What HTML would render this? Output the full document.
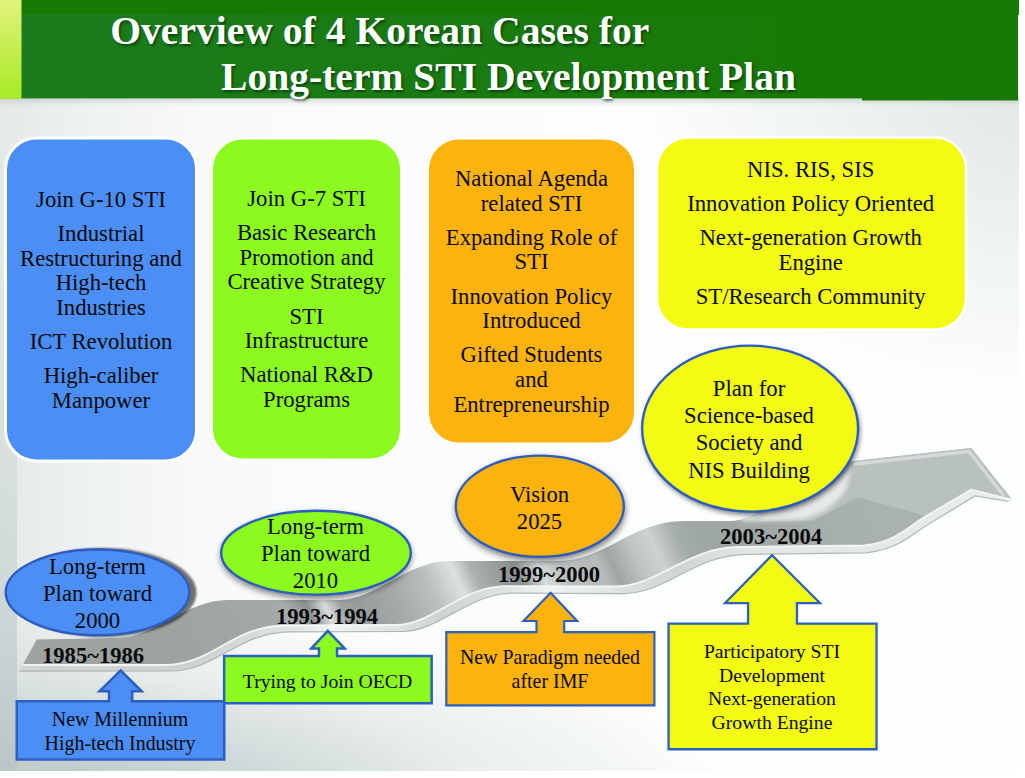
<!DOCTYPE html>
<html>
<head>
<meta charset="utf-8">
<title>Overview of 4 Korean Cases for Long-term STI Development Plan</title>
<style>
html,body{margin:0;padding:0;background:#fff;}
body{width:1025px;height:778px;overflow:hidden;position:relative;font-family:"Liberation Serif",serif;color:#0a0a0a;}
#slide{position:absolute;left:0;top:0;width:1018.5px;height:771px;overflow:hidden;
 background:
 radial-gradient(ellipse 380px 300px at 1030px 90px,rgba(222,230,228,.95) 0%,rgba(228,235,233,.7) 40%,rgba(236,241,240,0) 100%),
 radial-gradient(ellipse 720px 175px at 0px 792px,rgba(183,197,197,.95) 0%,rgba(194,206,206,.78) 35%,rgba(204,214,214,.36) 68%,rgba(210,220,220,0) 100%),
 linear-gradient(90deg,#e4e9e8 0,#e6eaea 17px,#eff2f2 90px,#f8f9f9 200px,#fbfcfc 400px,#fdfefe 100%);}
#lstrip{position:absolute;left:0;top:100px;width:16.5px;height:671px;
 background:linear-gradient(180deg,rgba(200,210,210,0) 15%,rgba(200,210,210,.45) 55%,rgba(186,198,198,.8) 100%);}
#hshadow{position:absolute;left:0;top:99px;width:1019px;height:7px;background:linear-gradient(180deg,rgba(120,135,130,.22),rgba(120,135,130,0));}
#svg{position:absolute;left:0;top:0;}
.t{position:absolute;text-align:center;white-space:nowrap;}
.b{font-size:22.7px;line-height:24.6px;}
.b p{margin:0 0 9.6px 0;}
.e{font-size:22.7px;line-height:27.2px;}
.c{font-size:19.7px;line-height:24px;}
.y{font-size:22.6px;font-weight:bold;line-height:24px;}
#title{position:absolute;left:0;top:0;color:#fff;font-weight:bold;font-size:39.6px;white-space:nowrap;
 text-shadow:1.5px 2px 2.5px rgba(0,30,0,.6);}
#title div{position:absolute;}
</style>
</head>
<body>
<div id="slide">
<div id="lstrip"></div><div id="hshadow"></div>
<svg id="svg" width="1025" height="778" viewBox="0 0 1025 778">
<defs>
<linearGradient id="gl" x1="0" y1="0" x2="0" y2="1">
<stop offset="0" stop-color="#e2f27c"/><stop offset="1" stop-color="#a6ea24"/>
</linearGradient>
<linearGradient id="gh" x1="21" y1="0" x2="862" y2="0" gradientUnits="userSpaceOnUse">
<stop offset="0" stop-color="#1b7c1d"/><stop offset="0.5" stop-color="#1a7b12"/><stop offset="1" stop-color="#187902"/>
</linearGradient>
<linearGradient id="gtop" x1="-400" y1="0" x2="800" y2="0" gradientUnits="userSpaceOnUse" gradientTransform="matrix(1 0 0.45 1 0 0)">
<stop offset="0.1072" stop-color="#9da4a2"/><stop offset="0.2138" stop-color="#9ba2a0"/><stop offset="0.3201" stop-color="#a2a8a7"/><stop offset="0.3451" stop-color="#a5aaaa"/><stop offset="0.3618" stop-color="#8c9292"/><stop offset="0.3768" stop-color="#d9dcdc"/><stop offset="0.3910" stop-color="#9da3a3"/><stop offset="0.4035" stop-color="#969c9c"/><stop offset="0.4417" stop-color="#a5acab"/><stop offset="0.4703" stop-color="#b9bebe"/><stop offset="0.4971" stop-color="#dde0e0"/><stop offset="0.5133" stop-color="#aab0af"/><stop offset="0.5348" stop-color="#969c9c"/><stop offset="0.5498" stop-color="#8a9090"/><stop offset="0.5698" stop-color="#d7dada"/><stop offset="0.5889" stop-color="#b9bebe"/><stop offset="0.6204" stop-color="#b5baba"/><stop offset="0.6327" stop-color="#a0a6a6"/><stop offset="0.6545" stop-color="#bec3c3"/><stop offset="0.6735" stop-color="#cdd2d2"/><stop offset="0.6963" stop-color="#a5acac"/><stop offset="0.7153" stop-color="#9fa7a6"/><stop offset="0.7664" stop-color="#a0a8a7"/><stop offset="0.7998" stop-color="#a5adab"/><stop offset="0.8531" stop-color="#a9b1af"/><stop offset="0.9967" stop-color="#adb5b3"/>
</linearGradient>
<linearGradient id="gface" x1="0" y1="0" x2="1000" y2="0" gradientUnits="userSpaceOnUse">
<stop offset="0.022" stop-color="#d0d5d4"/><stop offset="0.200" stop-color="#cdd2d1"/><stop offset="0.290" stop-color="#dfe3e3"/><stop offset="0.330" stop-color="#f2f4f4"/><stop offset="0.400" stop-color="#dde1e1"/><stop offset="0.440" stop-color="#cfd4d3"/><stop offset="0.500" stop-color="#dde1e1"/><stop offset="0.550" stop-color="#f2f4f4"/><stop offset="0.620" stop-color="#dde1e1"/><stop offset="0.680" stop-color="#d0d5d4"/><stop offset="0.750" stop-color="#e4e7e7"/><stop offset="0.860" stop-color="#e4e8e8"/><stop offset="1.012" stop-color="#e8ecec"/>
</linearGradient>
<filter id="b1" x="-10%" y="-10%" width="120%" height="120%"><feGaussianBlur stdDeviation="0.8"/></filter>
<filter id="b4" x="-20%" y="-20%" width="140%" height="140%"><feGaussianBlur stdDeviation="3.5"/></filter>
<clipPath id="cface"><path d="M36.600 0 L36.600 639.500 L18.900 672 L18.900 778 L1008 778 L1008.500 507 L1012.300 499.900 L971.300 448 L971.300 0 Z"/></clipPath>
<filter id="b2" x="-20%" y="-30%" width="140%" height="160%"><feGaussianBlur stdDeviation="2.2"/></filter>
<filter id="b3" x="-20%" y="-20%" width="140%" height="140%"><feGaussianBlur stdDeviation="2.5"/></filter>
</defs>
<!-- header -->
<rect x="0" y="0" width="1019" height="15" fill="#187902"/>
<rect x="21" y="14" width="997" height="84.500" fill="url(#gh)"/>
<rect x="862" y="14" width="156" height="86.500" fill="#187902"/>
<rect x="0" y="0" width="21.500" height="99" fill="url(#gl)"/>
<!-- top boxes -->
<rect x="5.500" y="138" width="191" height="323" rx="31" fill="#4b8ef5" stroke="#fff" stroke-width="3"/>
<rect x="211.500" y="138" width="190" height="322" rx="31" fill="#8cf91f" stroke="#fff" stroke-width="3"/>
<rect x="428" y="138.500" width="207" height="305" rx="31" fill="#fdb30d" stroke="#fff" stroke-width="2"/>
<rect x="657" y="137.500" width="309" height="192" rx="31" fill="#f3fb14" stroke="#fff" stroke-width="2.500"/>

<!-- ribbon placeholder -->
<g id="ribbon">
<path d="M1012.300 499.900 L971.300 489.500 L926.500 515.900 C905 529 895 542 864 545.500 L739 547 C686 547.500 659 586.500 614 586.500 L505 586.200 C462 586.500 432 625 395 625 L285 625.500 C232 626 212 665 165 665 L22.700 665 L19.300 671.200 L170 671 C217 671 237 632.300 290 631.800 L402 631.500 C439.500 631.500 469.500 593.200 512.500 593.200 L622 593.700 C667 593.700 694 554.700 747 554.300 L866 552.800 C899 549 909 536 930.500 523 L975 496 L1008.400 501.500 Z" fill="url(#gface)"/>
<path d="M19.300 671.200 L170 671 C217 671 237 632.300 290 631.800 L402 631.500 C439.500 631.500 469.500 593.200 512.500 593.200 L622 593.700 C667 593.700 694 554.700 747 554.300 L866 552.800 C899 549 909 536 930.500 523 L975 496 L1008.400 501.500" fill="none" stroke="#a9b0af" stroke-width="1.200" opacity="0.9"/>
<path d="M36.600 639.500 L115 638 C158 638 183 600.500 228 600 L339 600 C376 600 406 561.500 449 561 L559 561 C604 561 631 521.500 684 521 L730 521 C765 521 790 478 825 465 L854 461 L971.300 448 L1012.300 499.900 L971.300 489.500 L926.500 515.900 C905 529 895 542 864 545.500 L739 547 C686 547.500 659 586.500 614 586.500 L505 586.200 C462 586.500 432 625 395 625 L285 625.500 C232 626 212 665 165 665 L22.700 665 Z" fill="url(#gtop)"/>
<path d="M813 520.500 L858 497.300 L926.500 515.900 L971.300 489.500 L1012.300 499.900 L971.300 448 L854 461 L825 465 C800 474 780 500 760 521 Z" fill="#bdc5c3" opacity="0.75"/>
<path d="M742 521.500 L795 520 C820 518 836 504 846 490 L852 467 L838 478 C812 502 782 512 742 514 Z" fill="#f4f6f6" opacity="0.75" filter="url(#b2)"/>
<path d="M1012.300 499.900 L971.300 489.500 L926.500 515.900 C905 529 895 542 864 545.500 L739 547 C686 547.500 659 586.500 614 586.500 L505 586.200 C462 586.500 432 625 395 625 L285 625.500 C232 626 212 665 165 665 L22.700 665" fill="none" stroke="#f6f8f8" stroke-width="1.800" stroke-linejoin="round" opacity="0.95"/>
<path d="M853 464.300 L969 451.500 L1004 496" fill="none" stroke="#d9dedd" stroke-width="3.500" opacity="0.85"/>
</g>

<!-- ellipses -->
<ellipse cx="103" cy="592.500" rx="93.500" ry="44.500" fill="#000" opacity="0.55" filter="url(#b1)"/>
<ellipse cx="316" cy="556" rx="95" ry="42.500" fill="#000" opacity="0.55" filter="url(#b4)"/>
<ellipse cx="540.500" cy="509.500" rx="84.500" ry="51.500" fill="#000" opacity="0.55" filter="url(#b4)"/>
<ellipse cx="751.500" cy="431.500" rx="108.500" ry="83.500" fill="#000" opacity="0.5" filter="url(#b3)"/>
<ellipse cx="97.500" cy="592.300" rx="91.800" ry="42.800" fill="#4b8ef5" stroke="#2d5dbe" stroke-width="2.400"/>
<ellipse cx="316" cy="552.700" rx="94.800" ry="41.900" fill="#8cf91f" stroke="#2d5dbe" stroke-width="2.400"/>
<ellipse cx="539.800" cy="506.200" rx="84" ry="50.600" fill="#fdb30d" stroke="#2d5dbe" stroke-width="2.400"/>
<ellipse cx="750.100" cy="428.600" rx="108" ry="83" fill="#f3fb14" stroke="#2d5dbe" stroke-width="2.400"/>
<!-- callouts -->
<path d="M120.600 670.400 L141.700 691.300 L132.200 691.300 L132.200 701.250 L224.250 701.250 L224.250 759.500 L16.750 759.500 L16.750 701.250 L109 701.250 L109 691.300 L99.500 691.300 Z" fill="#4b8ef5" stroke="#2d5fbe" stroke-width="2.500"/>
<path d="M327.800 630.800 L344.700 648.450 L337.050 648.450 L337.050 656.050 L431.650 656.050 L431.650 703.150 L224.150 703.150 L224.150 656.050 L318.950 656.050 L318.950 648.450 L311.300 648.450 Z" fill="#8cf91f" stroke="#2d5fbe" stroke-width="2.500"/>
<path d="M550.600 592.800 L577.100 621 L564.200 621 L564.200 632.100 L654.400 632.100 L654.400 705.300 L446.300 705.300 L446.300 632.100 L536.500 632.100 L536.500 621 L523.500 621 Z" fill="#fdb30d" stroke="#2d5fbe" stroke-width="2.200"/>
<path d="M772.100 555.200 L819.900 603.050 L796.950 603.050 L796.950 623.650 L876.550 623.650 L876.550 749.250 L668.550 749.250 L668.550 623.650 L748.050 623.650 L748.050 603.050 L725.100 603.050 Z" fill="#f3fb14" stroke="#2d5fbe" stroke-width="2.300"/>
</svg>

<div class="t b" style="left:5px;width:192px;top:188px"><p>Join G-10 STI</p><p>Industrial<br>Restructuring and<br>High-tech<br>Industries</p><p>ICT Revolution</p><p>High-caliber<br>Manpower</p></div>
<div class="t b" style="left:211px;width:191px;top:187px"><p>Join G-7 STI</p><p>Basic Research<br>Promotion and<br>Creative Strategy</p><p>STI<br>Infrastructure</p><p>National R&amp;D<br>Programs</p></div>
<div class="t b" style="left:428px;width:207px;top:167px"><p>National Agenda<br>related STI</p><p>Expanding Role of<br>STI</p><p>Innovation Policy<br>Introduced</p><p>Gifted Students<br>and<br>Entrepreneurship</p></div>
<div class="t b" style="left:656.200px;width:309px;top:158px"><p>NIS. RIS, SIS</p><p>Innovation Policy Oriented</p><p>Next-generation Growth<br>Engine</p><p>ST/Research Community</p></div>
<div class="t e" style="left:5px;width:185px;top:553px">Long-term<br>Plan toward<br>2000</div>
<div class="t e" style="left:220px;width:191px;top:513px">Long-term<br>Plan toward<br>2010</div>
<div class="t e" style="left:455px;width:169px;top:481px">Vision<br>2025</div>
<div class="t e" style="left:640px;width:218px;top:375px">Plan for<br>Science-based<br>Society and<br>NIS Building</div>
<div class="t y" style="left:42px;width:102px;top:644px">1985~1986</div>
<div class="t y" style="left:276px;width:102px;top:605px">1993~1994</div>
<div class="t y" style="left:498px;width:102px;top:563px">1999~2000</div>
<div class="t y" style="left:720px;width:102px;top:525px">2003~2004</div>
<div class="t c" style="left:16px;width:208px;top:706.600px;line-height:24.6px;font-size:19.9px">New Millennium<br>High-tech Industry</div>
<div class="t c" style="left:223.500px;width:208px;top:668.800px">Trying to Join OECD</div>
<div class="t c" style="left:445.500px;width:209px;top:645px;font-size:19.9px">New Paradigm needed<br>after IMF</div>
<div class="t c" style="left:668px;width:208px;top:640px;line-height:23.7px">Participatory STI<br>Development<br>Next-generation<br>Growth Engine</div>
<div id="title"><div style="left:110.300px;top:7.700px">Overview of 4 Korean Cases for</div><div style="left:221px;top:54px">Long-term STI Development Plan</div></div>
</div>
</body>
</html>
